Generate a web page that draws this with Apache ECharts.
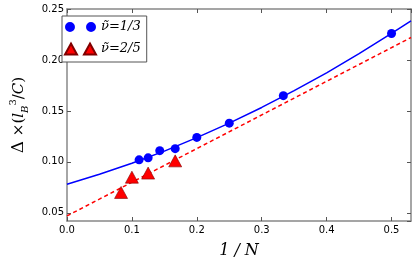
<!DOCTYPE html>
<html><head><meta charset="utf-8">
<script src="https://cdn.jsdelivr.net/npm/echarts@6/dist/echarts.min.js"></script>
<style>html,body{margin:0;padding:0;background:#fff}#c{width:416px;height:264px}</style>
</head><body><div id="c"></div>
<script>
// Data
const invN13 = [0.1111, 0.125, 0.1429, 0.1667, 0.2, 0.25, 0.3333, 0.5];
const gap13  = [0.102, 0.104, 0.111, 0.113, 0.124, 0.138, 0.165, 0.226];
const invN25 = [0.0833, 0.1, 0.125, 0.1667];
const gap25  = [0.070, 0.085, 0.089, 0.101];
// Fit curves
const fit13X = [0, 0.05, 0.1, 0.15, 0.2, 0.25, 0.3, 0.35, 0.4, 0.45, 0.5, 0.53];
const fit13Y = [0.078, 0.0878, 0.0986, 0.1106, 0.1238, 0.1380, 0.1534, 0.1699, 0.1874, 0.2062, 0.2260, 0.2384];
const fit25X = [0, 0.53];
const fit25Y = [0.047, 0.222];
const xTicks = [0.0, 0.1, 0.2, 0.3, 0.4, 0.5];
const yTicks = [0.05, 0.10, 0.15, 0.20, 0.25];

const zip = (a, b) => a.map((v, i) => [v, b[i]]);
const frame = '#888';
const circ2 = 'path://M1,5.5a4.5,4.5 0 1,0 9,0a4.5,4.5 0 1,0 -9,0M20,5.5a4.5,4.5 0 1,0 9,0a4.5,4.5 0 1,0 -9,0';
const tri2 = 'path://M0,11L6,0L12,11ZM19,11L25,0L31,11Z';

const chart = echarts.init(document.getElementById('c'));
const axisCommon = {
  axisLine: {show: true, onZero: false, lineStyle: {color: frame, width: 1.5}},
  axisTick: {show: true, inside: true, length: 4, lineStyle: {color: '#555', width: 1}},
  splitLine: {show: false}
};
const serif = 'DejaVu Serif';
chart.setOption({
  animation: false,
  grid: {left: 55, right: 5, top: 9, bottom: 29, containLabel: false},
  legend: {
    left: 62, top: 16, orient: 'vertical',
    padding: [4, 6, 6, 2], itemGap: 8, itemTextGap: 8,
    borderColor: '#555', borderWidth: 1, backgroundColor: '#fff',
    itemWidth: 31, itemHeight: 11,
    textStyle: {fontFamily: serif, fontStyle: 'italic', fontSize: 13, lineHeight: 14, color: '#000'},
    data: [{name: 'ν̃=1/3', icon: circ2}, {name: 'ν̃=2/5', icon: tri2}]
  },
  xAxis: [Object.assign({
    type: 'value', min: 0, max: 0.53, interval: 0.1,
    name: '1 / N', nameLocation: 'middle', nameGap: 22,
    nameTextStyle: {fontFamily: serif, fontStyle: 'italic', fontSize: 16, color: '#000'},
    axisLabel: {margin: 4, fontFamily: 'DejaVu Sans', fontSize: 10, color: '#000', showMaxLabel: false,
      formatter: v => xTicks.some(t => Math.abs(t - v) < 1e-6) ? v.toFixed(1) : ''}
  }, axisCommon), Object.assign({
    type: 'value', min: 0, max: 0.53, interval: 0.1, position: 'top',
    axisLabel: {show: false}
  }, axisCommon)],
  yAxis: [Object.assign({
    type: 'value', min: 0.042, max: 0.25, minInterval: 0.05, maxInterval: 0.05, splitNumber: 4,
    name: '{d|Δ}{n| ×(}{i|l}{s|B}{p|3}{n|/}{i|C}{n|)}', nameLocation: 'middle', nameGap: 37,
    nameTextStyle: {
      rich: {
        d: {fontFamily: serif, fontSize: 17, color: '#000', lineHeight: 22, verticalAlign: 'middle'},
        n: {fontFamily: serif, fontSize: 15, color: '#000', lineHeight: 22, verticalAlign: 'middle'},
        i: {fontFamily: serif, fontStyle: 'italic', fontSize: 15, color: '#000', lineHeight: 22, verticalAlign: 'middle'},
        s: {fontFamily: serif, fontStyle: 'italic', fontSize: 10, color: '#000', lineHeight: 22, verticalAlign: 'bottom'},
        p: {fontFamily: serif, fontSize: 10, color: '#000', lineHeight: 22, verticalAlign: 'top'}
      }
    },
    axisLabel: {margin: 3, fontFamily: 'DejaVu Sans', fontSize: 10, color: '#000', showMinLabel: false,
      formatter: v => yTicks.some(t => Math.abs(t - v) < 1e-6) ? v.toFixed(2) : ''}
  }, axisCommon), Object.assign({
    type: 'value', min: 0.042, max: 0.25, minInterval: 0.05, maxInterval: 0.05, splitNumber: 4, position: 'right',
    axisLabel: {show: false}
  }, axisCommon)],
  series: [
    {type: 'line', data: zip(fit13X, fit13Y), showSymbol: false, silent: true,
      lineStyle: {color: '#0000ff', width: 1.5}, z: 2},
    {type: 'line', data: zip(fit25X, fit25Y), showSymbol: false, silent: true,
      lineStyle: {color: '#ff0000', width: 1.5, type: [4, 3]}, z: 2},
    {name: 'ν̃=1/3', type: 'scatter', data: zip(invN13, gap13), symbol: 'circle', symbolSize: 9,
      itemStyle: {color: '#0000ff', opacity: 1}, z: 3},
    {name: 'ν̃=2/5', type: 'scatter', data: zip(invN25, gap25), symbol: 'triangle', symbolSize: [13, 12],
      itemStyle: {color: '#ff0000', borderColor: '#800000', borderWidth: 0.6, opacity: 1}, z: 3}
  ]
});
</script></body></html>
